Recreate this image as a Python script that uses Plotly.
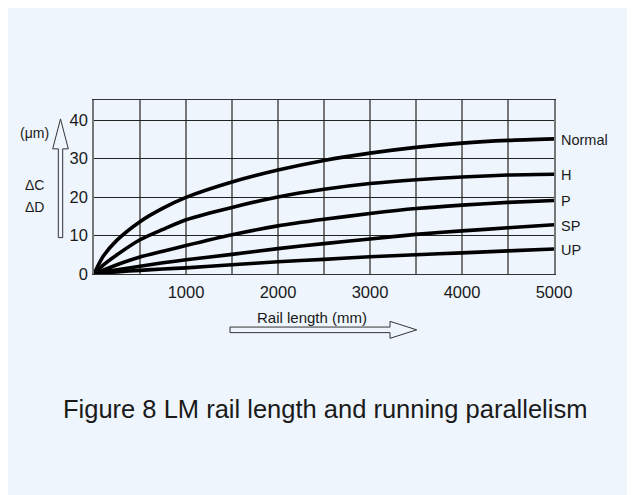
import plotly.graph_objects as go

# ---- data ----
rail_length = [0, 100, 250, 500, 750, 1000, 1500, 2000, 2500, 3000, 3500, 4000, 4500, 5000]
normal = [0, 4.6, 8.8, 13.6, 17.1, 19.9, 23.9, 27.0, 29.5, 31.4, 32.9, 34.0, 34.7, 35.1]
grade_h = [0, 2.3, 5.0, 8.9, 11.6, 14.1, 17.3, 20.0, 22.0, 23.5, 24.5, 25.2, 25.7, 25.9]
grade_p = [0, 1.0, 2.4, 4.4, 5.9, 7.4, 10.2, 12.5, 14.2, 15.7, 17.0, 17.9, 18.6, 19.1]
grade_sp = [0, 0.5, 1.1, 2.0, 2.9, 3.7, 5.1, 6.6, 7.9, 9.1, 10.3, 11.2, 12.0, 12.8]
grade_up = [0, 0.25, 0.55, 0.95, 1.3, 1.6, 2.4, 3.2, 3.8, 4.5, 5.0, 5.5, 6.0, 6.5]
series_names = ["Normal", "H", "P", "SP", "UP"]
series_values = [normal, grade_h, grade_p, grade_sp, grade_up]
x_ticks = [1000, 2000, 3000, 4000, 5000]
y_ticks = [0, 10, 20, 30, 40]

OFF = 8  # page body margin
W, H = 635 - OFF, 495 - OFF
ML, MT, PW, PH = 86, 92, 460, 174.5
MR = W - ML - PW
MB = H - MT - PH


def px(x):
    return (x - OFF - ML) / PW


def py(y):
    return (H - MB - (y - OFF)) / PH


BG = "#EEF5FC"
FONT = "Liberation Sans, Arial, sans-serif"
TXT = "#1a1a1a"

fig = go.Figure()
for name, vals in zip(series_names, series_values):
    fig.add_trace(go.Scatter(x=rail_length, y=vals, mode="lines", name=name,
                             line=dict(color="black", width=3.6, shape="spline", smoothing=0.7),
                             showlegend=False, hoverinfo="skip"))
    fig.add_annotation(x=rail_length[-1], y=vals[-1], text=name, showarrow=False,
                       xanchor="left", yanchor="middle", xshift=5, yshift=-1,
                       font=dict(size=14.5, color=TXT, family=FONT))

shapes = []
yarrow = [(58.3, 238), (62.7, 238), (62.7, 149), (68.3, 149), (60.5, 119), (52.7, 149), (58.3, 149)]
path = "M " + " L ".join(f"{px(a)},{py(b)}" for a, b in yarrow) + " Z"
shapes.append(dict(type="path", xref="paper", yref="paper", path=path,
                   fillcolor="rgba(0,0,0,0)", line=dict(color="#333", width=1)))
xarrow = [(230, 327.7), (390, 327.7), (390, 322), (416.7, 330.5), (390, 339), (390, 333.3), (230, 333.3)]
path = "M " + " L ".join(f"{px(a)},{py(b)}" for a, b in xarrow) + " Z"
shapes.append(dict(type="path", xref="paper", yref="paper", path=path,
                   fillcolor="rgba(0,0,0,0)", line=dict(color="#333", width=1)))

annotations = [
    dict(x=px(35), y=py(133), text="(\u03bcm)", font=dict(size=14, color=TXT, family=FONT)),
    dict(x=px(34), y=py(185), text="\u0394C", font=dict(size=14, color=TXT, family=FONT)),
    dict(x=px(34), y=py(207), text="\u0394D", font=dict(size=14, color=TXT, family=FONT)),
    dict(x=px(312), y=py(318), text="Rail length (mm)", font=dict(size=15, color=TXT, family=FONT)),
    dict(x=px(325), y=py(410), text="Figure 8 LM rail length and running parallelism",
         font=dict(size=25.5, color=TXT, family=FONT)),
]
for a in annotations:
    fig.add_annotation(xref="paper", yref="paper", showarrow=False, xanchor="center", yanchor="middle", **a)

fig.update_layout(
    width=W, height=H,
    margin=dict(l=ML, r=MR, t=MT, b=MB, pad=0),
    paper_bgcolor=BG, plot_bgcolor=BG,
    shapes=shapes,
    font=dict(family=FONT, color=TXT),
    xaxis=dict(range=[0, 5000], tickvals=x_ticks, showgrid=True, gridcolor="#777", gridwidth=1.5,
               minor=dict(dtick=500, tick0=0, showgrid=True, gridcolor="#777", gridwidth=1.5),
               showline=True, mirror=True, linecolor="#333", linewidth=1, zeroline=False,
               ticks="", ticklabelstandoff=3, tickfont=dict(size=16.5, color=TXT)),
    yaxis=dict(range=[0, 45.2], tickvals=y_ticks, showgrid=True, gridcolor="#222", gridwidth=1,
               showline=True, mirror=True, linecolor="#777", linewidth=1.5, zeroline=False,
               ticks="", ticklabelstandoff=1, tickfont=dict(size=16.5, color=TXT)),
)

fig.write_html("out.html")
